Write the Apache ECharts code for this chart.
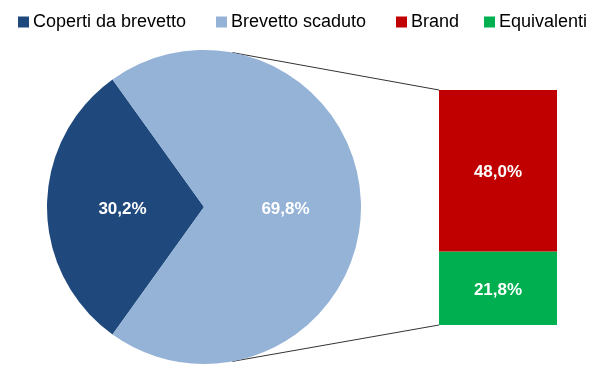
<!DOCTYPE html>
<html><head><meta charset="utf-8">
<script src="https://cdn.jsdelivr.net/npm/echarts@6/dist/echarts.min.js"></script>
<style>html,body{margin:0;padding:0;background:#fff}#c{width:600px;height:373px}</style>
</head><body><div id="c"></div>
<script>
const pieNames = ['Coperti da brevetto', 'Brevetto scaduto'];
const pieValues = [30.2, 69.8];
const barNames = ['Brand', 'Equivalenti'];
const barValues = [48.0, 21.8];
const colors = ['#1F497D', '#95B3D7', '#C00000', '#00B050'];

const FONT = 'Liberation Sans';
const fmt = v => v.toFixed(1).replace('.', ',') + '%';
const pieCenter = [204, 207], pieR = 157;
const total = pieValues.reduce((a, b) => a + b, 0);
const startAngle = 180 + 360 * pieValues[0] / total / 2;

const chart = echarts.init(document.getElementById('c'));
const legendPos = [18, 216, 396, 484];
const legendItems = [pieNames[0], pieNames[1], barNames[0], barNames[1]];
const labelStyle = { color: '#fff', fontSize: 17, fontWeight: 'bold', fontFamily: FONT, offset: [0, 2] };

chart.setOption({
  animation: false,
  legend: legendItems.map((n, i) => ({
    data: [n], left: legendPos[i], top: 13, icon: 'rect', itemWidth: 11, itemHeight: 11,
    itemGap: 0, padding: 0, selectedMode: false,
    textStyle: { fontSize: 18, color: '#000', fontFamily: FONT, padding: [2, 0, 0, -1] }
  })),
  grid: { left: 439, top: 90, width: 118, height: 235 },
  xAxis: { type: 'category', data: ['x'], show: false },
  yAxis: { type: 'value', min: 0, max: barValues[0] + barValues[1], show: false },
  series: [
    {
      type: 'pie', center: pieCenter, radius: pieR, startAngle: startAngle, clockwise: true,
      silent: true, emphasis: { disabled: true },
      label: Object.assign({ position: 'inside', formatter: p => fmt(p.value) }, labelStyle),
      labelLine: { show: false },
      data: pieNames.map((n, i) => ({ name: n, value: pieValues[i], itemStyle: { color: colors[i] } }))
    },
    {
      type: 'bar', name: barNames[1], stack: 's', barWidth: '100%', silent: true,
      itemStyle: { color: colors[3] },
      label: Object.assign({ show: true, position: 'inside', formatter: p => fmt(p.value) }, labelStyle),
      data: [barValues[1]]
    },
    {
      type: 'bar', name: barNames[0], stack: 's', barWidth: '100%', silent: true,
      itemStyle: { color: colors[2] },
      label: Object.assign({ show: true, position: 'inside', formatter: p => fmt(p.value) }, labelStyle),
      data: [barValues[0]]
    }
  ]
});

// connector lines from pie edge to bar corners
const topRight = chart.convertToPixel({ gridIndex: 0 }, ['x', barValues[0] + barValues[1]]);
const botRight = chart.convertToPixel({ gridIndex: 0 }, ['x', 0]);
const barLeft = 439;
const a = 79.6 * Math.PI / 180;
const p1 = [pieCenter[0] + pieR * Math.cos(a), pieCenter[1] - pieR * Math.sin(a)];
const p2 = [pieCenter[0] + pieR * Math.cos(a), pieCenter[1] + pieR * Math.sin(a)];
chart.setOption({
  graphic: [
    { type: 'line', shape: { x1: p1[0], y1: p1[1], x2: barLeft, y2: topRight[1] }, style: { stroke: '#333', lineWidth: 1 }, silent: true },
    { type: 'line', shape: { x1: p2[0], y1: p2[1], x2: barLeft, y2: botRight[1] }, style: { stroke: '#333', lineWidth: 1 }, silent: true }
  ]
});
</script></body></html>
